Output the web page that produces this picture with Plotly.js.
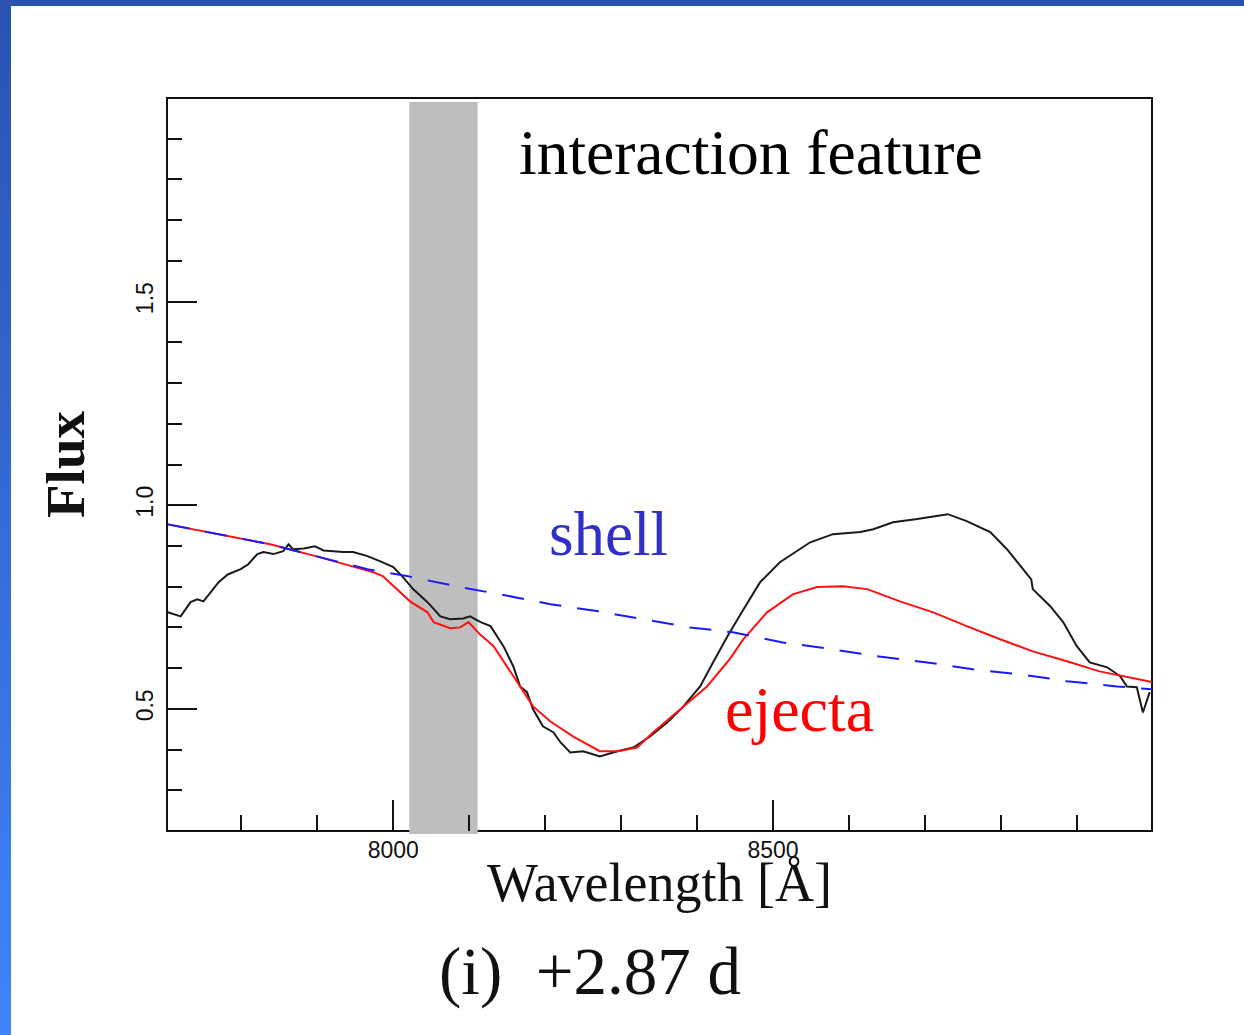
<!DOCTYPE html>
<html>
<head>
<meta charset="utf-8">
<script src="https://cdn.plot.ly/plotly-3.0.1.min.js"></script>
<style>
  html, body { margin: 0; padding: 0; width: 1244px; height: 1035px; overflow: hidden; }
  body { background: linear-gradient(to bottom, #2a52b0 0%, #3f84fa 100%); position: relative; }
  #plot { position: absolute; left: 11px; top: 6px; width: 1233px; height: 1029px; background: #ffffff; }
</style>
</head>
<body>
<div id="plot"></div>
<script>
// Observed spectrum (black)
const waveObs = [7703, 7711, 7720, 7733, 7742, 7750, 7759, 7770, 7782, 7799, 7809, 7821, 7829, 7842, 7855, 7862, 7868, 7882, 7897, 7908, 7921, 7934, 7947, 7966, 7983, 8000, 8013, 8026, 8045, 8062, 8075, 8092, 8101, 8115, 8128, 8137, 8145, 8158, 8167, 8176, 8184, 8197, 8211, 8220, 8233, 8250, 8272, 8295, 8316, 8338, 8361, 8382, 8404, 8421, 8440, 8461, 8483, 8509, 8549, 8579, 8615, 8632, 8658, 8690, 8711, 8730, 8755, 8786, 8808, 8829, 8840, 8842, 8865, 8882, 8900, 8917, 8940, 8957, 8966, 8979, 8987, 8996];
const fluxObs = [0.737, 0.732, 0.727, 0.762, 0.769, 0.764, 0.786, 0.811, 0.830, 0.843, 0.855, 0.880, 0.885, 0.880, 0.887, 0.904, 0.892, 0.894, 0.899, 0.889, 0.887, 0.885, 0.885, 0.875, 0.862, 0.848, 0.823, 0.794, 0.762, 0.727, 0.720, 0.722, 0.727, 0.713, 0.703, 0.678, 0.654, 0.604, 0.555, 0.541, 0.499, 0.457, 0.442, 0.418, 0.393, 0.396, 0.383, 0.396, 0.405, 0.432, 0.467, 0.506, 0.555, 0.614, 0.678, 0.744, 0.811, 0.860, 0.909, 0.929, 0.934, 0.941, 0.958, 0.966, 0.973, 0.978, 0.961, 0.934, 0.892, 0.843, 0.818, 0.794, 0.752, 0.713, 0.654, 0.614, 0.602, 0.580, 0.555, 0.553, 0.491, 0.541];

// Ejecta model (red)
const waveEjecta = [7703, 7782, 7838, 7904, 7974, 7986, 8022, 8045, 8053, 8075, 8088, 8099, 8114, 8132, 8141, 8167, 8184, 8207, 8237, 8272, 8295, 8321, 8342, 8382, 8413, 8443, 8461, 8492, 8526, 8558, 8592, 8624, 8667, 8711, 8755, 8799, 8842, 8887, 8930, 8999];
const fluxEjecta = [0.953, 0.924, 0.904, 0.872, 0.835, 0.826, 0.764, 0.737, 0.713, 0.698, 0.700, 0.713, 0.683, 0.654, 0.629, 0.555, 0.506, 0.469, 0.432, 0.396, 0.396, 0.405, 0.442, 0.506, 0.555, 0.622, 0.671, 0.737, 0.781, 0.799, 0.801, 0.794, 0.764, 0.737, 0.703, 0.671, 0.641, 0.617, 0.592, 0.566];

// Shell model (blue dashed)
const waveShell = [7703, 7782, 7838, 7904, 7966, 8018, 8088, 8141, 8207, 8268, 8329, 8391, 8447, 8513, 8579, 8637, 8703, 8763, 8825, 8887, 8953, 8999];
const fluxShell = [0.953, 0.924, 0.904, 0.872, 0.843, 0.826, 0.799, 0.781, 0.757, 0.740, 0.720, 0.700, 0.688, 0.663, 0.646, 0.629, 0.614, 0.597, 0.585, 0.568, 0.555, 0.548];

// Highlighted interaction band
const bandStart = 8021;
const bandEnd = 8111;

// Axes ticks
const xTickVals = [8000, 8500];
const xTickText = ['8000', '8500'];
const xMinorVals = [7800, 7900, 8100, 8200, 8300, 8400, 8600, 8700, 8800, 8900];
const yTickVals = [0.5, 1.0, 1.5];
const yTickText = ['0.5', '1.0', '1.5'];
const yMinorVals = [0.3, 0.4, 0.6, 0.7, 0.8, 0.9, 1.1, 1.2, 1.3, 1.4, 1.6, 1.7, 1.8, 1.9];

const serif = '"Liberation Serif", "Times New Roman", serif';
const sans = '"Liberation Sans", Arial, sans-serif';

const traces = [
  { x: waveObs, y: fluxObs, type: 'scatter', mode: 'lines',
    line: { color: '#1a1a1a', width: 2 }, hoverinfo: 'skip' },
  { x: waveEjecta, y: fluxEjecta, type: 'scatter', mode: 'lines',
    line: { color: '#ff1010', width: 2 }, hoverinfo: 'skip' },
  { x: waveShell, y: fluxShell, type: 'scatter', mode: 'lines',
    line: { color: '#1a1aff', width: 2 , dash: '22px,16px' }, hoverinfo: 'skip' }
];

const layout = {
  width: 1233, height: 1029,
  margin: { l: 156, r: 92, t: 92, b: 204 },
  paper_bgcolor: '#ffffff', plot_bgcolor: '#ffffff',
  showlegend: false,
  xaxis: {
    range: [7702, 8999], showgrid: false, zeroline: false, showline: false,
    tickmode: 'array', tickvals: xTickVals, ticktext: xTickText,
    ticks: 'inside', ticklen: 31, tickwidth: 2, tickcolor: '#111',
    ticklabelstandoff: 3,
    tickfont: { family: sans, size: 23, color: '#111' },
    minor: { tickmode: 'array', tickvals: xMinorVals, ticks: 'inside', ticklen: 16, tickwidth: 2, tickcolor: '#111', showgrid: false }
  },
  yaxis: {
    range: [0.2, 2.0], showgrid: false, zeroline: false, showline: false,
    tickmode: 'array', tickvals: yTickVals, ticktext: yTickText,
    ticks: 'inside', ticklen: 30, tickwidth: 2, tickcolor: '#111',
    tickangle: -90, ticklabelstandoff: 8,
    tickfont: { family: sans, size: 23, color: '#111' },
    minor: { tickmode: 'array', tickvals: yMinorVals, ticks: 'inside', ticklen: 15, tickwidth: 2, tickcolor: '#111', showgrid: false },
    title: { text: 'Flux', font: { family: serif, size: 55, color: '#111', weight: 600 }, standoff: 30 }
  },
  shapes: [
    { type: 'rect', xref: 'paper', yref: 'paper', x0: 0, x1: 1, y0: 0, y1: 1,
      line: { color: '#111', width: 2 }, fillcolor: 'rgba(0,0,0,0)', layer: 'below' },
    { type: 'rect', xref: 'x', yref: 'paper', x0: bandStart, x1: bandEnd, y0: -0.004, y1: 0.9945,
      line: { width: 0 }, fillcolor: '#bebebe', layer: 'below' }
  ],
  annotations: [
    { text: 'Wavelength [Å]', xref: 'paper', yref: 'paper', x: 0.5, y: -0.071,
      xanchor: 'center', yanchor: 'middle', showarrow: false,
      font: { family: serif, size: 54, color: '#111' } },
    { text: 'interaction feature', xref: 'x', yref: 'y', x: 8163, y: 1.867,
      xanchor: 'left', yanchor: 'middle', showarrow: false,
      font: { family: serif, size: 63.5, color: '#000' } },
    { text: 'shell', xref: 'x', yref: 'y', x: 8203, y: 0.929,
      xanchor: 'left', yanchor: 'middle', showarrow: false,
      font: { family: serif, size: 63, color: '#3030c8' } },
    { text: 'ejecta', xref: 'x', yref: 'y', x: 8434, y: 0.499,
      xanchor: 'left', yanchor: 'middle', showarrow: false,
      font: { family: serif, size: 64, color: '#ff0000' } },
    { text: '(i)  +2.87 d', xref: 'paper', yref: 'paper', x: 0.4294, y: -0.191,
      xanchor: 'center', yanchor: 'middle', showarrow: false,
      font: { family: serif, size: 67, color: '#111' } }
  ]
};

Plotly.newPlot('plot', traces, layout, { staticPlot: true, displayModeBar: false });
</script>
</body>
</html>
